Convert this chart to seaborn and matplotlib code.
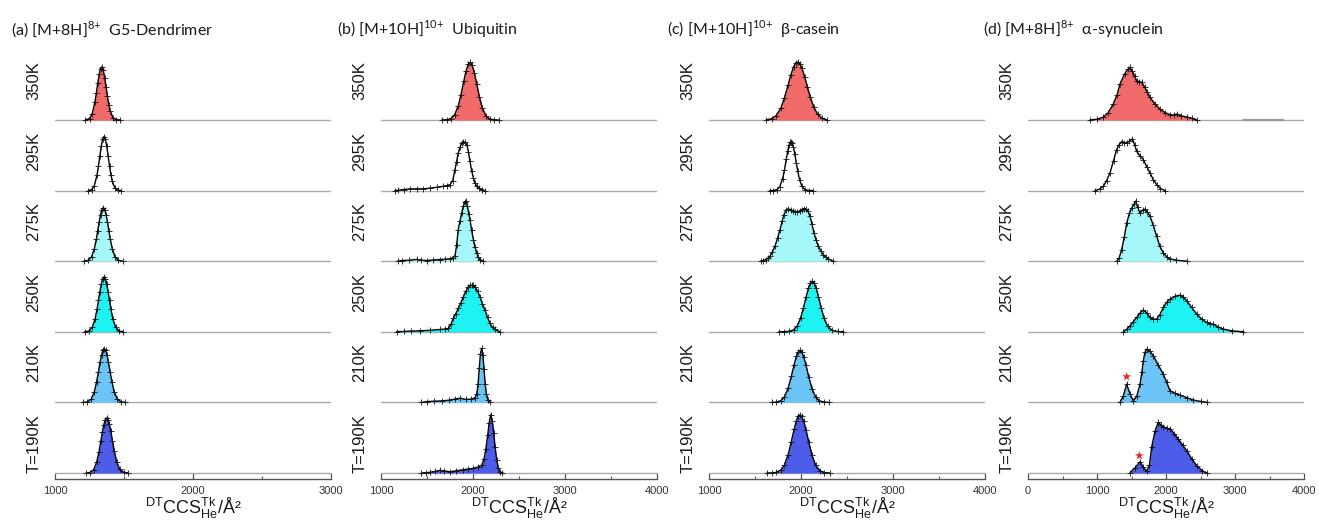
import matplotlib
matplotlib.use('Agg')
import matplotlib.pyplot as plt
import matplotlib.transforms as mtransforms
from matplotlib.ticker import MultipleLocator
import seaborn as sns

# ---- data (CCS in A^2, intensity in arbitrary units) ----
temps = ['350K', '295K', '275K', '250K', '210K', 'T=190K']
fill_colors = ['#F26B6B', '#FFFFFF', '#A6F7F9', '#1EF2F2', '#6CC3F6', '#4E5CEA']

titles = [r'(a) [M+8H]$^{\mathregular{8}\mathregular{+}}$  G5-Dendrimer',
          r'(b) [M+10H]$^{\mathregular{10}\mathregular{+}}$  Ubiquitin',
          r'(c) [M+10H]$^{\mathregular{10}\mathregular{+}}$  β-casein',
          r'(d) [M+8H]$^{\mathregular{8}\mathregular{+}}$  α-synuclein']
xlims = [(1000, 3000), (1000, 4000), (1000, 4000), (0, 4000)]

# (a) G5-Dendrimer
dend_350_x = [1220, 1250, 1270, 1290, 1300, 1310, 1320, 1330, 1340, 1350, 1360, 1370, 1380, 1390, 1400, 1420, 1440, 1470]
dend_350_y = [0, 1.5, 6.4, 18.4, 27.3, 37, 45.7, 51.5, 53, 49.6, 42.4, 33.1, 23.6, 15.3, 9.1, 2.4, 0.5, 0]
dend_295_x = [1240, 1265, 1285, 1305, 1315, 1325, 1335, 1345, 1355, 1365, 1375, 1385, 1395, 1405, 1415, 1435, 1455, 1480]
dend_295_y = [0, 1.0, 4.9, 15.9, 24.7, 34.8, 44.4, 51.4, 54, 51.4, 44.4, 34.8, 24.7, 15.9, 9.3, 2.4, 0.4, 0]
dend_275_x = [1210, 1240, 1265, 1285, 1300, 1310, 1320, 1330, 1340, 1350, 1360, 1370, 1380, 1390, 1400, 1415, 1435, 1460, 1490]
dend_275_y = [0, 0.8, 4.4, 12.4, 22.5, 30.7, 39.2, 46.6, 51.7, 53.5, 51.7, 46.6, 39.2, 30.7, 22.5, 12.4, 4.4, 0.8, 0]
dend_250_x = [1215, 1245, 1270, 1290, 1305, 1315, 1325, 1335, 1345, 1355, 1365, 1375, 1385, 1395, 1405, 1420, 1440, 1465, 1495]
dend_250_y = [0, 0.8, 4.5, 12.6, 22.9, 31.3, 39.9, 47.5, 52.7, 54.5, 52.7, 47.5, 39.9, 31.3, 22.9, 12.6, 4.5, 0.8, 0]
dend_210_x = [1205, 1235, 1262, 1285, 1302, 1315, 1327, 1337, 1347, 1357, 1367, 1377, 1387, 1399, 1412, 1429, 1452, 1480, 1510]
dend_210_y = [0, 0.5, 3.2, 10.6, 20.9, 30.9, 40.5, 47.4, 52, 53.7, 52, 47.4, 40.5, 30.9, 20.9, 10.6, 3.2, 0.5, 0]
dend_190_x = [1225, 1252, 1280, 1302, 1319, 1332, 1344, 1354, 1364, 1374, 1384, 1394, 1404, 1416, 1429, 1446, 1469, 1497, 1530]
dend_190_y = [0, 0.5, 3.2, 10.8, 21.4, 31.6, 41.5, 48.5, 53.2, 55, 53.4, 48.8, 42, 32.5, 22.5, 11.5, 3.8, 0.7, 0]

# (b) Ubiquitin
ubq_350_x = [1660, 1720, 1760, 1800, 1840, 1870, 1900, 1925, 1950, 1970, 1990, 2015, 2040, 2070, 2100, 2140, 2180, 2230, 2280]
ubq_350_y = [0, 0.3, 1.4, 5.2, 14.2, 25.5, 39, 49.4, 56.2, 57.6, 55, 47.2, 36.3, 23, 12.4, 4.3, 1.1, 0.2, 0]
ubq_295_x = [1150, 1190, 1250, 1315, 1390, 1460, 1530, 1605, 1670, 1714, 1750, 1780, 1804, 1822, 1840, 1860, 1877, 1895,
             1912, 1932, 1950, 1967, 1985, 2004, 2022, 2040, 2065, 2094, 2130]
ubq_295_y = [0, 0.4, 1.0, 1.7, 1.8, 1.7, 2.4, 3.3, 4.2, 5.0, 6.0, 10, 21, 29, 37.7, 43.5, 47.7, 49,
             48.2, 46, 39, 29.3, 20, 12.7, 7.6, 4.3, 2.2, 1, 0]
ubq_275_x = [1180, 1225, 1300, 1388, 1440, 1497, 1570, 1641, 1700, 1750, 1780, 1804, 1822, 1840, 1858, 1877, 1895, 1910,
             1924, 1940, 1955, 1967, 1985, 2004, 2022, 2040, 2058, 2076, 2110]
ubq_275_y = [0, 0.7, 0.9, 1.8, 1.0, 0.7, 1.2, 1.7, 2.0, 2.3, 3.5, 5, 16, 31.7, 40, 48, 55, 59,
             60.5, 55, 47, 41.7, 31, 21.7, 14, 8.3, 4, 1.7, 0]
ubq_250_x = [1170, 1250, 1330, 1424, 1530, 1641, 1700, 1732, 1760, 1786, 1812, 1840, 1868, 1895, 1922, 1949, 1968, 1986,
             2004, 2022, 2050, 2076, 2103, 2130, 2158, 2185, 2212, 2239, 2290]
ubq_250_y = [0, 0.4, 0.7, 1.0, 1.5, 2.3, 2.8, 3.3, 7.5, 13.3, 18, 23.3, 29, 35, 40.5, 45, 46.3, 46.7,
             46.3, 45, 40.5, 35, 28, 21.7, 14.5, 8.3, 4.5, 2.3, 0]
ubq_210_x = [1440, 1500, 1580, 1660, 1740, 1800, 1859, 1920, 1980, 2020, 2040, 2055, 2068, 2080, 2094, 2108, 2120, 2133,
             2146, 2166, 2190]
ubq_210_y = [0, 0.8, 1.2, 1.5, 2.2, 3.3, 4.2, 3.0, 3.2, 4.5, 8, 18, 34, 48, 54, 47, 33, 18, 8, 2, 0]
ubq_190_x = [1440, 1490, 1533, 1590, 1641, 1690, 1750, 1820, 1895, 1950, 2004, 2050, 2094, 2120, 2140, 2160, 2175, 2193,
             2210, 2225, 2240, 2258, 2275, 2293, 2320]
ubq_190_y = [0, 0.3, 0.7, 1.6, 2.7, 2.0, 1.3, 2.2, 3.3, 4.0, 4.7, 5.8, 7.7, 14, 24, 38, 50, 58.4,
             52, 40, 26, 13, 5, 1.2, 0]

# (c) beta-casein
bcas_350_x = [1620, 1680, 1730, 1780, 1820, 1860, 1890, 1920, 1945, 1965, 1985, 2010, 2040, 2070, 2100, 2140, 2180, 2230, 2280]
bcas_350_y = [0, 1.3, 4.4, 11.8, 22, 35.2, 45.2, 53.3, 57.2, 58, 56.5, 51.9, 43.2, 33, 23.2, 12.7, 5.9, 1.8, 0]
bcas_295_x = [1660, 1700, 1740, 1770, 1800, 1820, 1840, 1855, 1870, 1882, 1892, 1904, 1918, 1932, 1948, 1965, 1985, 2010,
              2045, 2090, 2130]
bcas_295_y = [0, 0.1, 1, 4, 11.9, 20.6, 31.4, 39.2, 45.4, 48.3, 49, 47.6, 43.2, 36.8, 28.1, 19.2, 10.8, 4.3, 0.8, 0.1, 0]
bcas_275_x = [1560, 1590, 1620, 1645, 1663, 1690, 1717, 1745, 1772, 1795, 1815, 1838, 1862, 1890, 1917, 1940, 1960, 1985,
              2007, 2030, 2054, 2076, 2098, 2120, 2141, 2165, 2188, 2215, 2242, 2270, 2297, 2350]
bcas_275_y = [0, 0.6, 1.7, 3.2, 5, 9.5, 15, 23, 31.7, 40, 46.7, 51, 52.3, 51.5, 50, 49.4, 49, 50.2,
              51.7, 52.5, 52.3, 50, 45, 37, 28.3, 21, 15, 10.5, 6.7, 4, 2.3, 0]
bcas_250_x = [1760, 1820, 1870, 1920, 1960, 1995, 2025, 2055, 2080, 2103, 2123, 2143, 2165, 2190, 2220, 2250, 2290, 2340, 2400, 2460]
bcas_250_y = [0, 0.1, 0.4, 1.9, 6, 13.5, 23.3, 34.7, 43.4, 48.7, 50.3, 48.7, 43.7, 35.1, 23.6, 13.8, 5.4, 1.4, 0.3, 0]
bcas_210_x = [1680, 1730, 1780, 1820, 1860, 1895, 1925, 1950, 1970, 1989, 2008, 2030, 2055, 2085, 2120, 2160, 2200, 2250, 2300]
bcas_210_y = [0, 0.3, 1.7, 5.6, 14.2, 26, 37.8, 46.2, 50.5, 52, 50.5, 45.6, 37, 25.3, 13.6, 5.3, 1.6, 0.3, 0]
bcas_190_x = [1630, 1680, 1730, 1780, 1820, 1860, 1895, 1925, 1950, 1970, 1989, 2008, 2030, 2055, 2085, 2120, 2160, 2205,
              2255, 2310]
bcas_190_y = [0, 0.1, 0.6, 2.8, 8, 18.3, 31.5, 43.7, 52.2, 56.6, 58, 56.6, 51.6, 42.9, 30.7, 17.7, 7.7, 2.3, 0.4, 0]

# (d) alpha-synuclein
asyn_350_x = [899, 1000, 1087, 1160, 1236, 1290, 1333, 1400, 1450, 1478, 1510, 1545, 1575, 1610, 1647, 1690, 1730, 1768,
              1840, 1913, 1985, 2058, 2110, 2155, 2220, 2300, 2370, 2445]
asyn_350_y = [0, 0.8, 2.7, 7, 16, 25, 36, 46, 51, 52.6, 49, 44, 39, 38.5, 37.7, 33, 28, 22.7,
              16, 11, 7.5, 5.3, 5, 6, 4.2, 3, 1.8, 0]
asyn_295_x = [971, 1040, 1091, 1140, 1188, 1240, 1285, 1320, 1358, 1395, 1430, 1470, 1512, 1545, 1575, 1620, 1671, 1720,
              1768, 1815, 1865, 1920, 1986]
asyn_295_y = [0, 1.5, 4.3, 10, 17.7, 30, 41, 46, 49, 48, 47.7, 49.5, 51.7, 46, 39.3, 35, 31, 24,
              17.7, 11, 6, 2, 0]
asyn_275_x = [1285, 1320, 1358, 1395, 1430, 1470, 1503, 1535, 1561, 1590, 1623, 1660, 1696, 1730, 1768, 1815, 1865, 1910,
              1961, 2010, 2058, 2150, 2300]
asyn_275_y = [0, 3, 11.7, 24, 38, 48, 53, 57, 60, 54, 48, 51, 52, 49, 45, 36, 25, 15, 8.3, 4.5, 2.3, 1, 0]
asyn_250_x = [1382, 1430, 1478, 1525, 1575, 1625, 1671, 1720, 1768, 1815, 1865, 1910, 1961, 2010, 2058, 2130, 2203, 2250,
              2300, 2370, 2445, 2520, 2590, 2640, 2686, 2750, 2831, 2950, 3120]
asyn_250_y = [0, 2.5, 6, 10, 14.3, 19, 21.7, 19, 14.3, 12.5, 12.7, 17, 24.3, 29.5, 32.7, 35.5, 36.7, 35,
              31, 24.5, 17.7, 12.5, 9.3, 8, 7.7, 5, 2.7, 1, 0]
asyn_210_x = [1333, 1380, 1430, 1480, 1527, 1575, 1623, 1650, 1671, 1695, 1720, 1768, 1816, 1890, 1961, 2010, 2058, 2130,
              2203, 2300, 2396, 2500, 2590]
asyn_210_y = [0, 6, 18.3, 8, 1.7, 6, 18, 30, 41.7, 50, 53.3, 51, 46.7, 37, 28.3, 20, 11.7, 9, 7.3, 4.8, 2.3, 1, 0]
asyn_190_x = [1478, 1550, 1623, 1670, 1720, 1760, 1792, 1841, 1889, 1925, 1961, 2010, 2058, 2120, 2179, 2240, 2300, 2370,
              2445, 2520, 2590]
asyn_190_y = [0, 5, 11.3, 6, 1.7, 8, 25.7, 42, 50.7, 48, 46.3, 45, 44, 39.5, 34, 28, 22.3, 14.5, 7.3, 2.5, 0]
asyn_350_noise_x = [3116, 3696]
asyn_350_noise_y = [0, 0]

# red stars marking the compact conformer in (d)
star_rows = [4, 5]
star_x = [1430, 1613]
star_y = [25.7, 17.3]

curves = [
    [(dend_350_x, dend_350_y), (dend_295_x, dend_295_y), (dend_275_x, dend_275_y),
     (dend_250_x, dend_250_y), (dend_210_x, dend_210_y), (dend_190_x, dend_190_y)],
    [(ubq_350_x, ubq_350_y), (ubq_295_x, ubq_295_y), (ubq_275_x, ubq_275_y),
     (ubq_250_x, ubq_250_y), (ubq_210_x, ubq_210_y), (ubq_190_x, ubq_190_y)],
    [(bcas_350_x, bcas_350_y), (bcas_295_x, bcas_295_y), (bcas_275_x, bcas_275_y),
     (bcas_250_x, bcas_250_y), (bcas_210_x, bcas_210_y), (bcas_190_x, bcas_190_y)],
    [(asyn_350_x, asyn_350_y), (asyn_295_x, asyn_295_y), (asyn_275_x, asyn_275_y),
     (asyn_250_x, asyn_250_y), (asyn_210_x, asyn_210_y), (asyn_190_x, asyn_190_y)],
]

# ---- styling ----
sns.set_theme(style='white')
plt.rcParams['font.family'] = ['Liberation Sans', 'DejaVu Sans']
plt.rcParams['mathtext.fontset'] = 'custom'
plt.rcParams['mathtext.rm'] = 'Liberation Sans'

W, H = 1319, 521
fig = plt.figure(figsize=(W / 100, H / 100), dpi=100)

col_left = [55, 381, 709, 1028]
col_w = 276
row_h = 70.6
first_base = 120
pad_below = 6

for c in range(4):
    for r in range(6):
        base = first_base + r * row_h
        ax = fig.add_axes([col_left[c] / W, 1 - (base + pad_below) / H, col_w / W, row_h / H])
        xs, ys = curves[c][r]
        ax.axhline(0, color='#a9a9a9', lw=1.0, zorder=1)
        ax.fill_between(xs, ys, 0, color=fill_colors[r], lw=0, zorder=2)
        sns.lineplot(x=xs, y=ys, ax=ax, color='black', lw=1.0, estimator=None, sort=False,
                     marker='+', markersize=5, markeredgewidth=0.6, markeredgecolor='#111111',
                     zorder=3, legend=False)
        if c == 3 and r == 0:
            sns.lineplot(x=asyn_350_noise_x, y=asyn_350_noise_y, ax=ax, color='#999999', lw=1.6,
                         estimator=None, zorder=2, legend=False)
        if c == 3 and r in star_rows:
            i = star_rows.index(r)
            sns.scatterplot(x=[star_x[i]], y=[star_y[i]], ax=ax, marker='*', color='#E3262B',
                            s=45, edgecolor='none', zorder=4, legend=False)
        ax.set_xlim(*xlims[c])
        ax.set_ylim(-pad_below, row_h - pad_below)
        ax.set_yticks([])
        ax.set_ylabel('')
        for s in ['top', 'right', 'left']:
            ax.spines[s].set_visible(False)
        ax.patch.set_alpha(0)
        # temperature label
        tr = ax.transAxes + mtransforms.ScaledTranslation(-21 / 100, 0, fig.dpi_scale_trans)
        ax.text(0, (pad_below + 59) / row_h, temps[r], transform=tr, rotation=90,
                ha='center', va='top', fontsize=12, color='#1a1a1a')
        if r < 5:
            ax.spines['bottom'].set_visible(False)
            ax.set_xticks([])
        else:
            ax.spines['bottom'].set_color('#555555')
            ax.spines['bottom'].set_linewidth(1.0)
            ax.xaxis.set_major_locator(MultipleLocator(1000))
            ax.xaxis.set_minor_locator(MultipleLocator(500))
            ax.tick_params(axis='x', which='major', direction='in', length=4, width=0.9,
                           color='#555555', labelsize=8, labelcolor='#333333', pad=5, bottom=True)
            ax.tick_params(axis='x', which='minor', direction='in', length=2, width=0.8,
                           color='#555555', bottom=True)
            ax.set_xlabel(r'$^{\mathregular{DT}}$CCS$^{\mathregular{Tk}}_{\mathregular{He}}$/Å²',
                          fontsize=13, labelpad=0, color='#1a1a1a')

title_x = [11, 337, 667, 983]
for c in range(4):
    fig.text(title_x[c] / W, 1 - 35 / H, titles[c], fontsize=11.5, family=['Lato', 'DejaVu Sans'],
             ha='left', va='baseline', color='#1a1a1a')

fig.savefig('out.png', dpi=100, facecolor='white')
